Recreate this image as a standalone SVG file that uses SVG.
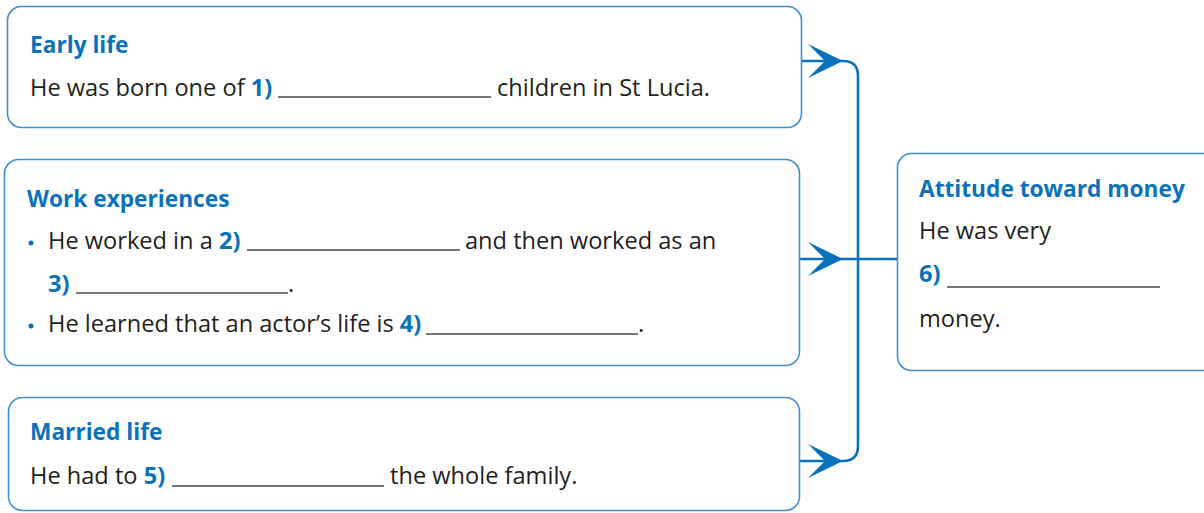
<svg xmlns="http://www.w3.org/2000/svg" width="1204" height="513" viewBox="0 0 1204 513">
<style>
.box{fill:#fff;stroke:#3d8fd0;stroke-width:1.6}
.t{font-family:"Open Sans","Liberation Sans",sans-serif;font-size:23.6px;fill:#231f20}
.h{font-family:"Open Sans","Liberation Sans",sans-serif;font-size:22.7px;font-weight:bold;fill:#0a72bb}
.n{font-weight:bold;fill:#0a72bb}
.blank{stroke:#4a4a4a;stroke-width:1.5}
.con{fill:none;stroke:#0a72bb;stroke-width:2.6}
.bul{fill:#0a72bb}
</style>
<defs>
<marker id="arr" viewBox="0 0 35 34" refX="35" refY="17" markerWidth="35" markerHeight="34" markerUnits="userSpaceOnUse" orient="auto">
<path d="M0 0 L35 17 L0 34 L17 17 Z" fill="#0a72bb"/>
</marker>
</defs>
<g id="connectors">
<path class="con" d="M843 61 Q858 61 858 76 V446 Q858 461 843 461"/>
<path class="con" d="M801 61 H843" marker-end="url(#arr)"/>
<path class="con" d="M799 259 H843" marker-end="url(#arr)"/>
<path class="con" d="M843 259 H897"/>
<path class="con" d="M799 461 H843" marker-end="url(#arr)"/>
</g>
<g id="early-life">
<rect class="box" x="7.5" y="6.5" width="794" height="121" rx="14"/>
<text class="h" x="30" y="53">Early life</text>
<text class="t" x="30" y="96">He was born one of <tspan class="n">1)</tspan></text>
<line class="blank" x1="278" y1="97" x2="491" y2="97"/>
<text class="t" x="497" y="96">children in St Lucia.</text>
</g>
<g id="work-experiences">
<rect class="box" x="4.5" y="159.5" width="795" height="206" rx="14"/>
<text class="h" x="27" y="207">Work experiences</text>
<circle class="bul" cx="31" cy="243" r="2.5"/>
<text class="t" x="48" y="249">He worked in a <tspan class="n">2)</tspan></text>
<line class="blank" x1="247" y1="250" x2="460" y2="250"/>
<text class="t" x="465" y="249">and then worked as an</text>
<text class="t" x="48" y="292"><tspan class="n">3)</tspan></text>
<line class="blank" x1="76" y1="293" x2="288" y2="293"/>
<text class="t" x="288" y="292">.</text>
<circle class="bul" cx="31" cy="326" r="2.5"/>
<text class="t" x="48" y="332">He learned that an actor’s life is <tspan class="n">4)</tspan></text>
<line class="blank" x1="426" y1="334" x2="638" y2="334"/>
<text class="t" x="638" y="332">.</text>
</g>
<g id="married-life">
<rect class="box" x="8.5" y="397.5" width="791" height="113" rx="14"/>
<text class="h" x="30" y="440">Married life</text>
<text class="t" x="30" y="484">He had to <tspan class="n">5)</tspan></text>
<line class="blank" x1="172" y1="486" x2="384" y2="486"/>
<text class="t" x="390" y="484">the whole family.</text>
</g>
<g id="attitude-toward-money">
<rect class="box" x="897.5" y="153.5" width="330" height="217" rx="14"/>
<text class="h" x="919" y="197">Attitude toward money</text>
<text class="t" x="919" y="239">He was very</text>
<text class="t" x="919" y="282"><tspan class="n">6)</tspan></text>
<line class="blank" x1="947" y1="287" x2="1160" y2="287"/>
<text class="t" x="919" y="327">money.</text>
</g>
</svg>
